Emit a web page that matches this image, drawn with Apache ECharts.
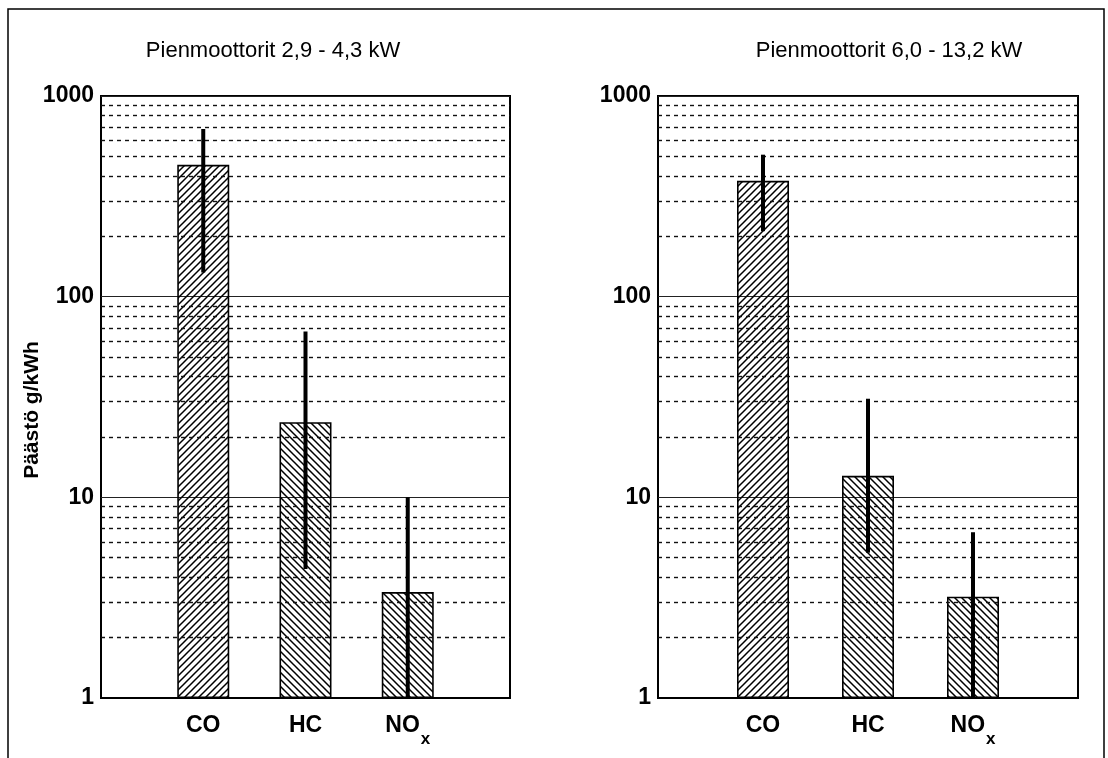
<!DOCTYPE html>
<html>
<head>
<meta charset="utf-8">
<script src="https://cdn.jsdelivr.net/npm/echarts@6/dist/echarts.min.js"></script>
<style>
  html, body { margin: 0; padding: 0; background: #fff; }
  #chart { width: 1108px; height: 758px; }
</style>
</head>
<body>
<div id="chart"></div>
<script>
// data
var categories = ["", "CO", "HC", "NOx", ""];
var titles = ["Pienmoottorit 2,9 - 4,3 kW", "Pienmoottorit 6,0 - 13,2 kW"];
var yName = "Päästö g/kWh";
var minorTicks = [2, 3, 4, 5, 6, 7, 8, 9, 20, 30, 40, 50, 60, 70, 80, 90, 200, 300, 400, 500, 600, 700, 800, 900];

var meanSmall = ["-", 454, 23.7, 3.37, "-"];
var lowSmall = [null, 132, 4.4, 1];
var highSmall = [null, 684, 67, 10];

var meanLarge = ["-", 378, 12.8, 3.2, "-"];
var lowLarge = [null, 212, 5.3, 1];
var highLarge = [null, 510, 31, 6.7];

var font = "'Liberation Sans', Arial, sans-serif";

// hatching tiles
function hatch(forward) {
  var s = 7;
  var c = document.createElement("canvas");
  c.width = s; c.height = s;
  var g = c.getContext("2d");
  g.strokeStyle = "#000";
  g.lineWidth = 1.5;
  g.beginPath();
  if (forward) {
    g.moveTo(-1, 1); g.lineTo(1, -1);
    g.moveTo(0, s); g.lineTo(s, 0);
    g.moveTo(s - 1, s + 1); g.lineTo(s + 1, s - 1);
  } else {
    g.moveTo(-1, s - 1); g.lineTo(1, s + 1);
    g.moveTo(0, 0); g.lineTo(s, s);
    g.moveTo(s - 1, -1); g.lineTo(s + 1, 1);
  }
  g.stroke();
  return { image: c, repeat: "repeat" };
}
var hatchFwd = hatch(true);
var hatchBack = hatch(false);

function barData(vals) {
  return vals.map(function (v, i) {
    if (v === "-") return "-";
    return { value: v, itemStyle: { color: i === 1 ? hatchFwd : hatchBack } };
  });
}

function errData(lo, hi) {
  var out = [];
  for (var i = 1; i < lo.length; i++) out.push([i, lo[i], hi[i]]);
  return out;
}

function renderErr(params, api) {
  var x = api.value(0);
  var a = api.coord([x, api.value(1)]);
  var b = api.coord([x, api.value(2)]);
  return {
    type: "line",
    shape: { x1: a[0], y1: a[1], x2: b[0], y2: b[1] },
    style: { stroke: "#000", lineWidth: 4 }
  };
}

var grids = [
  { left: 101, top: 96, width: 409, height: 602 },
  { left: 658, top: 96, width: 420, height: 602 }
];

var xAxes = [], yAxes = [], series = [];
[0, 1].forEach(function (k) {
  grids[k].show = true;
  grids[k].borderColor = "#000";
  grids[k].borderWidth = 2;
  grids[k].backgroundColor = "transparent";
  xAxes.push({
    type: "category",
    gridIndex: k,
    data: categories,
    boundaryGap: false,
    axisTick: { show: false },
    axisLine: { lineStyle: { color: "#000", width: 2 } },
    axisLabel: {
      interval: 0,
      margin: 16,
      color: "#000",
      fontSize: 23,
      fontWeight: "bold",
      fontFamily: font,
      formatter: function (v) { return v === "NOx" ? "{a|NO}{b|x}" : v; },
      rich: {
        a: { fontSize: 23, fontWeight: "bold", fontFamily: font, color: "#000", padding: [0, 0, 11, 0] },
        b: { fontSize: 17, fontWeight: "bold", fontFamily: font, color: "#000", padding: [16, 0, 0, 1] }
      }
    },
    splitLine: { show: false }
  });
  yAxes.push({
    type: "log",
    gridIndex: k,
    logBase: 10,
    min: 1,
    max: 1000,
    axisTick: { show: false },
    axisLine: { lineStyle: { color: "#000", width: 2 } },
    axisLabel: {
      color: "#000", fontSize: 23, fontWeight: "bold", fontFamily: font, margin: 7,
      formatter: function (v) { return String(Math.round(v)); }
    },
    splitLine: { show: true, lineStyle: { color: "#222", width: 1.2 } }
  });
  series.push({
    type: "bar",
    xAxisIndex: k,
    yAxisIndex: k,
    barWidth: 52,
    data: barData(k === 0 ? meanSmall : meanLarge),
    itemStyle: { borderColor: "#000", borderWidth: 1.6 },
    markLine: {
      silent: true,
      symbol: "none",
      label: { show: false },
      lineStyle: { color: "#111", type: [4, 4], width: 1.4 },
      data: minorTicks.map(function (t) { return { yAxis: t }; })
    },
    z: 2
  });
  series.push({
    type: "custom",
    xAxisIndex: k,
    yAxisIndex: k,
    renderItem: renderErr,
    encode: { x: 0, y: [1, 2] },
    data: k === 0 ? errData(lowSmall, highSmall) : errData(lowLarge, highLarge),
    z: 5
  });
});

var myChart = echarts.init(document.getElementById("chart"), null, { renderer: "canvas" });

myChart.setOption({
  animation: false,
  backgroundColor: "#fff",
  textStyle: { fontFamily: font },
  title: [
    { text: titles[0], left: 268, top: 35, textAlign: "center",
      textStyle: { fontSize: 22, fontWeight: "normal", color: "#000", fontFamily: font } },
    { text: titles[1], left: 884, top: 35, textAlign: "center",
      textStyle: { fontSize: 22, fontWeight: "normal", color: "#000", fontFamily: font } }
  ],
  grid: grids,
  xAxis: xAxes,
  yAxis: yAxes,
  series: series,
  graphic: [
    { type: "rect", shape: { x: 8, y: 9, width: 1096, height: 800 },
      style: { fill: "none", stroke: "#000", lineWidth: 1.5 }, silent: true },
    { type: "text", x: 32, y: 410, rotation: Math.PI / 2,
      style: { text: yName, font: "bold 21px " + font, fill: "#000", align: "center", verticalAlign: "middle" } }
  ]
});

window.addEventListener("resize", myChart.resize);
</script>
</body>
</html>
